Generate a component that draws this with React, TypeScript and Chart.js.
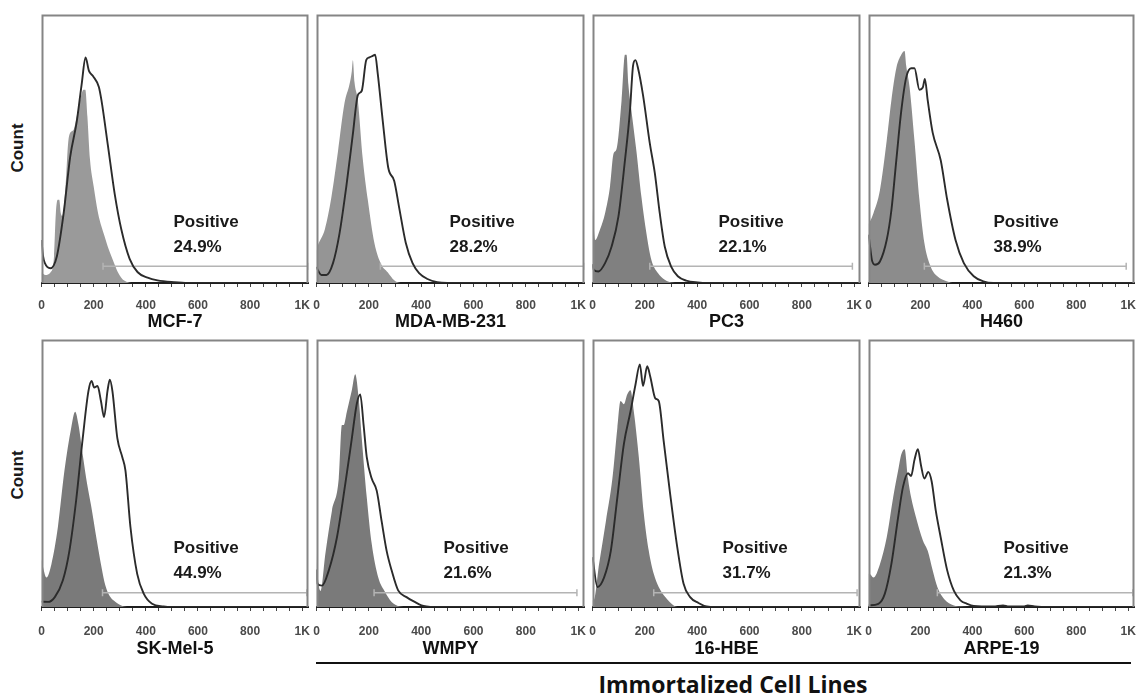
import React, { useEffect, useRef } from "react";
import { Chart, registerables } from "chart.js";

Chart.register(...registerables);

const FONT = "'Liberation Sans', Arial, sans-serif";

// ---------- data ----------
const cellLines = ["MCF-7", "MDA-MB-231", "PC3", "H460", "SK-Mel-5", "WMPY", "16-HBE", "ARPE-19"];
const positivePct = ["24.9%", "28.2%", "22.1%", "38.9%", "44.9%", "21.6%", "31.7%", "21.3%"];
const positiveLabel = "Positive";
const groupLabel = "Immortalized Cell Lines";
const yAxisLabel = "Count";

const xTickValues = [0, 50, 100, 150, 200, 250, 300, 350, 400, 450, 500, 550, 600, 650, 700, 750, 800, 850, 900, 950, 1000];
const xTickLabels: Record<number, string> = { 0: "0", 200: "200", 400: "400", 600: "600", 800: "800", 1000: "1K" };

// positive gate (channel start, channel end, level in % of max count)
const gateStart = [236, 244, 219, 215, 234, 220, 234, 265];
const gateEnd = [1022, 1022, 993, 992, 1018, 995, 1011, 1018];
const gateLevel = [6.2, 6.2, 6.2, 6.2, 5.3, 5.3, 5.3, 5.3];

// histograms: [channel, % of max count]
const mcf7Control = [[0,4],[15,3],[35,4],[48,10],[55,26],[62,31],[68,31],[74,26],[80,25],[92,36],[102,52],[110,56],[123,57],[135,62],[150,69],[161,72],[168,72],[176,62],[186,46],[200,36],[217,26],[230,21],[243,17],[256,13],[268,10],[280,7],[293,4],[306,2],[319,0.8],[345,0],[1024,0]];
const mcf7Stained = [[0,16],[6,10],[13,7.4],[34,5.5],[59,10],[85,26],[110,47],[135,60],[154,74],[169,84],[182,79],[198,77],[220,73],[230,68],[255,51],[281,33],[306,20],[338,9],[369,4],[407,2],[445,1],[508,0.3],[560,0],[1024,0]];

const mdaControl = [[0,12],[4,13.6],[32,20],[57,32],[82,49],[107,67],[126,74],[135,79],[139,83],[145,75],[158,68],[177,46],[196,31],[221,15],[247,7],[272,4],[297,1],[322,0],[1024,0]];
const mdaStained = [[0,6],[4,5],[19,3],[38,3],[63,7.4],[88,18.5],[114,36],[139,55.5],[158,70],[173,71.6],[190,83],[202,84],[215,84.6],[224,85],[234,78],[253,60.5],[274,43],[297,38],[316,28],[341,15],[367,7.4],[392,3.7],[424,1.5],[461,0.3],[500,0],[1024,0]];

const pc3Control = [[0,28],[4,22],[10,16],[29,20],[48,26],[67,36],[80,48],[92,50],[111,68],[124,85],[130,85],[137,74],[149,64],[168,49],[187,32],[206,18.5],[225,8.6],[250,3.7],[276,1.2],[301,0.2],[330,0],[1024,0]];
const pc3Stained = [[0,7],[4,5],[23,4.3],[48,7.4],[73,13.6],[99,24.7],[124,45.7],[143,64],[155,81],[164,83],[174,80],[193,70],[219,52],[238,41],[257,26],[276,13.6],[301,6],[326,2.5],[358,0.9],[402,0.2],[440,0],[1024,0]];

const h460Control = [[0,22],[6,23],[19,26],[44,34.5],[70,53],[88,68],[107,80],[126,85],[139,86.4],[145,81],[158,73],[177,53],[196,31],[215,15],[240,6],[265,2.5],[303,0.6],[330,0],[1024,0]];
const h460Stained = [[0,18],[3,16],[13,8.6],[25,6.8],[44,8],[70,16],[88,27],[107,45.7],[126,64],[145,76.5],[164,80],[177,80],[196,72],[209,72.8],[217,76],[228,68],[247,56],[278,45.7],[303,31],[335,16],[367,7.4],[405,2.5],[442,0.6],[480,0],[1024,0]];

const skmelControl = [[0,18],[8,14],[19,11],[38,16],[63,30],[88,51],[114,67],[129,73],[142,68],[158,57],[175,46],[190,38],[212,25],[230,15],[245,8],[262,4],[284,1.9],[316,0.2],[340,0],[1024,0]];
const skmelStained = [[0,2],[25,1.9],[51,3.7],[82,10],[107,21],[133,40],[158,63],[180,80.7],[192,84.5],[202,82],[215,82.6],[228,77],[240,71],[253,80.7],[262,85],[272,80.7],[291,63],[310,56],[322,51],[341,30],[367,12.4],[392,5],[424,1.2],[468,0.2],[500,0],[1024,0]];

const wmpyControl = [[0,20],[3,13.7],[15,6],[34,20],[59,36],[85,48],[97,68],[104,68],[116,73],[135,81],[148,87],[161,78],[173,63],[192,41],[211,23.6],[236,11],[262,5.6],[287,1.9],[319,0.2],[345,0],[1024,0]];
const wmpyStained = [[0,14],[3,8.7],[21,8],[47,13.7],[78,26],[110,46],[135,63],[154,76],[167,79.5],[180,68],[192,56],[211,48],[230,43.5],[249,32],[268,21],[287,13.7],[312,6.2],[344,3.7],[375,1.9],[401,0.6],[420,0.2],[450,0],[1024,0]];

const hbeControl = [[0,2.5],[4,2.5],[25,16],[51,32],[76,48],[95,67],[107,77],[120,75.8],[133,79.5],[145,81],[158,73],[177,56],[196,35],[215,21],[234,12.4],[253,7.5],[278,3.7],[310,0.6],[340,0],[1024,0]];
const hbeStained = [[0,18.6],[19,7.5],[44,11],[70,21],[95,41],[120,61],[145,73],[164,83],[181,90.7],[193,82.6],[209,90],[221,86],[240,78],[253,77],[272,62],[297,42],[322,23.6],[348,8.7],[373,3.7],[405,1.5],[436,0.2],[470,0],[1024,0]];

const arpeControl = [[0,12.4],[3,12.4],[19,11],[44,16],[70,26],[95,41],[114,51],[126,57],[139,59],[152,48],[164,41],[183,33.5],[209,25],[228,21],[247,13.7],[265,7.5],[291,3],[329,0.6],[354,0.2],[380,0],[1024,0]];
const arpeStained = [[0,0.6],[38,1.2],[63,5],[88,16],[114,33.5],[133,45],[152,50],[164,49],[177,55],[190,59],[202,53],[215,48],[230,50.5],[243,47],[259,36],[278,26],[303,13.7],[329,6],[354,2.5],[379,1.2],[405,0.4],[480,0.2],[518,0.6],[540,0.2],[600,0.2],[613,0.6],[640,0.2],[700,0],[1024,0]];

const controlSeries = [mcf7Control, mdaControl, pc3Control, h460Control, skmelControl, wmpyControl, hbeControl, arpeControl];
const stainedSeries = [mcf7Stained, mdaStained, pc3Stained, h460Stained, skmelStained, wmpyStained, hbeStained, arpeStained];

// ---------- styling / layout ----------
const fillColors = ["#9a9a9a", "#959595", "#808080", "#8c8c8c", "#7a7a7a", "#7a7a7a", "#7c7c7c", "#7c7c7c"];
const colLeft = [40, 315, 591, 867];
const colWidth = [270, 271, 271, 269];
const rowTop = [13, 338];
const rowHeight = [270, 269];
const rowAxisH = [50, 53];
const rowTickPad = [11, 13];
const rowText = [[22.6, 13.3], [22.1, 12.6]];
const labelOffset = [132, 133, 126, 125, 132, 127, 130, 135];
const PAD = 4;

const toXY = (pts: number[][]) => pts.map(([x, y]) => ({ x, y }));

const panelDecor = {
  id: "panelDecor",
  afterDatasetsDraw(chart: any, _args: any, opts: any) {
    const { ctx, chartArea: a } = chart;
    ctx.save();
    ctx.strokeStyle = "#858585";
    ctx.lineWidth = 2;
    ctx.beginPath();
    ctx.moveTo(a.left + 1, a.bottom);
    ctx.lineTo(a.left + 1, a.top + 1);
    ctx.lineTo(a.right - 1, a.top + 1);
    ctx.lineTo(a.right - 1, a.bottom);
    ctx.stroke();
    const h = a.bottom - a.top;
    ctx.fillStyle = "#1a1a1a";
    ctx.font = `bold 17px ${FONT}`;
    ctx.textBaseline = "middle";
    ctx.textAlign = "left";
    ctx.fillText(positiveLabel, a.left + opts.labelX, a.bottom - (opts.line1 / 100) * h);
    ctx.fillText(opts.pct, a.left + opts.labelX, a.bottom - (opts.line2 / 100) * h);
    ctx.restore();
  },
};

function Panel({ idx }: { idx: number }) {
  const ref = useRef<HTMLCanvasElement>(null);
  const row = Math.floor(idx / 4);
  const col = idx % 4;
  const w = colWidth[col] + PAD * 2;
  const h = rowHeight[row] + PAD + rowAxisH[row];

  useEffect(() => {
    if (!ref.current) return;
    const chart = new Chart(ref.current, {
      type: "line",
      data: {
        datasets: [
          {
            label: "stained",
            data: toXY(stainedSeries[idx]),
            borderColor: "#2b2b2b",
            borderWidth: 1.9,
            pointRadius: 0,
            fill: false,
            cubicInterpolationMode: "monotone",
            order: 0,
          } as any,
          {
            label: "gate",
            data: [
              { x: gateStart[idx], y: gateLevel[idx] },
              { x: gateEnd[idx], y: gateLevel[idx] },
            ],
            borderColor: "#b4b4b4",
            borderWidth: 1.5,
            pointStyle: "line",
            pointRotation: 90,
            pointRadius: 3.5,
            pointBorderColor: "#b4b4b4",
            pointBorderWidth: 1.5,
            fill: false,
            order: 1,
          },
          {
            label: "control",
            data: toXY(controlSeries[idx]),
            backgroundColor: fillColors[idx],
            borderColor: fillColors[idx],
            borderWidth: 0,
            pointRadius: 0,
            fill: "origin",
            cubicInterpolationMode: "monotone",
            order: 2,
          },
        ],
      },
      options: {
        animation: false,
        responsive: false,
        events: [],
        layout: { padding: { left: PAD, right: PAD, top: PAD, bottom: 0 } },
        scales: {
          x: {
            type: "linear",
            min: 0,
            max: 1024,
            afterBuildTicks: (s: any) => {
              s.ticks = xTickValues.map((v) => ({ value: v }));
            },
            afterFit: (s: any) => {
              s.height = rowAxisH[row];
              s.paddingLeft = 0;
              s.paddingRight = 0;
            },
            ticks: {
              autoSkip: false,
              maxRotation: 0,
              padding: rowTickPad[row],
              color: "#4a4a4a",
              font: { size: 12, weight: "bold", family: FONT },
              callback: (v: any) => xTickLabels[v as number] ?? "",
            },
            grid: { drawOnChartArea: false, drawTicks: true, tickLength: 4, color: "#444", lineWidth: 1 },
            border: { display: true, color: "#1e1e1e", width: 2 },
            title: {
              display: true,
              text: cellLines[idx],
              color: "#111",
              font: { size: 18, weight: "bold", family: FONT },
              padding: { top: 0, bottom: 0 },
            },
          },
          y: { display: false, min: 0, max: 100 },
        },
        plugins: {
          legend: { display: false },
          tooltip: { enabled: false },
          panelDecor: {
            labelX: labelOffset[idx],
            line1: rowText[row][0],
            line2: rowText[row][1],
            pct: positivePct[idx],
          },
        } as any,
      },
      plugins: [panelDecor],
    });
    return () => chart.destroy();
  }, []);

  return (
    <div style={{ position: "absolute", left: colLeft[col] - PAD, top: rowTop[row] - PAD, width: w, height: h }}>
      <canvas ref={ref} width={w} height={h} style={{ width: w, height: h, display: "block" }} />
    </div>
  );
}

export default function App() {
  const countStyle = (cy: number): React.CSSProperties => ({
    position: "absolute",
    left: 18.5 - 40,
    top: cy - 11,
    width: 80,
    height: 22,
    lineHeight: "22px",
    textAlign: "center",
    transform: "rotate(-90deg)",
    font: `bold 17px ${FONT}`,
    color: "#1a1a1a",
  });
  return (
    <div style={{ position: "absolute", left: 0, top: 0, width: 1137, height: 694, overflow: "hidden", background: "#fff" }}>
      {cellLines.map((_, i) => (
        <Panel key={i} idx={i} />
      ))}
      <div style={countStyle(148)}>{yAxisLabel}</div>
      <div style={countStyle(475)}>{yAxisLabel}</div>
      <div style={{ position: "absolute", left: 316, top: 662, width: 815, height: 2, background: "#111" }} />
      <div
        style={{
          position: "absolute",
          left: 483,
          top: 670,
          width: 500,
          textAlign: "center",
          font: "bold 23px 'Open Sans', sans-serif",
          lineHeight: "28px",
          color: "#111",
          whiteSpace: "nowrap",
        }}
      >
        {groupLabel}
      </div>
    </div>
  );
}
